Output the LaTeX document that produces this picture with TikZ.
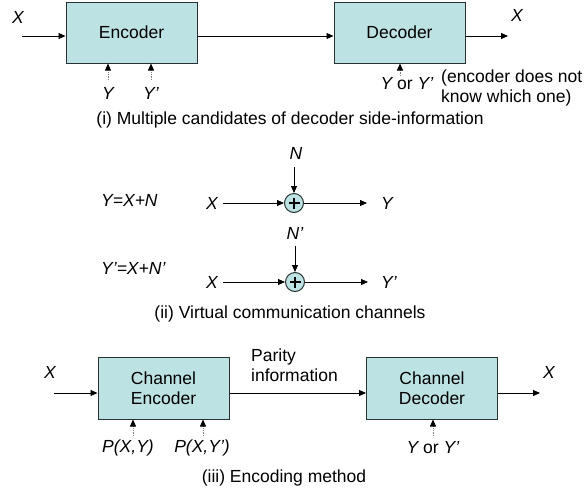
\documentclass[tikz,border=0pt]{standalone}
\usepackage{fontspec}
\setmainfont{Liberation Sans}
\usetikzlibrary{arrows.meta}
\definecolor{boxfill}{RGB}{188,226,227}
\definecolor{boxline}{RGB}{40,50,50}
\begin{document}
\begin{tikzpicture}[x=1pt,y=-1pt,
  every node/.style={font=\fontsize{17.5}{20}\selectfont, inner sep=0pt},
  block/.style={draw=boxline, line width=1pt, fill=boxfill, minimum width=131pt, minimum height=61pt, align=center},
  adder/.style={draw=boxline, line width=1pt, fill=boxfill, circle, minimum size=19pt},
  plus/.style={line width=1.3pt, black},
  lbl/.style={font=\fontsize{17.5}{20}\selectfont\itshape},
  flow/.style={line width=0.9pt, -{Triangle[length=7pt,width=6pt]}},
  side/.style={draw=gray, line width=0.8pt, densely dotted, -{Triangle[length=7pt,width=6pt,fill=black,color=black]}},
  caption/.style={font=\fontsize{17.5}{20}\selectfont}]
\useasboundingbox (0,0) rectangle (586,493);

% ---- (i) encoder / decoder with side information ----
\node[block] (enc) at (131.5,32.5) {Encoder};
\node[block] (dec) at (399.5,32.5) {Decoder};
\coordinate (iin) at (22,36);
\coordinate (iout) at (508,36);
\node[lbl] (xin) at (18,17) {X};
\node[lbl] (xout) at (517,15) {X};
\draw[flow] (iin) -- (enc.west |- iin);
\draw[flow] (enc.east |- iin) -- (dec.west |- iin);
\draw[flow] (dec.east |- iin) -- (iout);
\coordinate (s1) at (108,80);
\coordinate (s2) at (151,80);
\coordinate (s3) at (400,76);
\draw[side] (s1) -- (enc.south -| s1);
\draw[side] (s2) -- (enc.south -| s2);
\draw[side] (s3) -- (dec.south -| s3);
\node[lbl] (ly) at (108,93) {Y};
\node[lbl] (lyp) at (151,93) {Y’};
\node (lyor) at (407,84) {\textit{Y}\kern-1pt\ or \textit{Y’}};
\node[anchor=west, align=left] (note) at (441,88) {(encoder does not\\know which one)};
\node[caption] (cap1) at (290,120) {(i) Multiple candidates of decoder side-information};

% ---- (ii) virtual channels ----
\node[lbl, anchor=west] (eq1) at (101,200) {Y=X+N};
\node[lbl, anchor=west] (eq2) at (101,268) {Y’=X+N’};
\node[adder] (c1) at (294,203) {};
\draw[plus] ([xshift=-5.5pt]c1.center) -- ([xshift=5.5pt]c1.center)
            ([yshift=-5.5pt]c1.center) -- ([yshift=5.5pt]c1.center);
\node[adder] (c2) at (295,282) {};
\draw[plus] ([xshift=-5.5pt]c2.center) -- ([xshift=5.5pt]c2.center)
            ([yshift=-5.5pt]c2.center) -- ([yshift=5.5pt]c2.center);
\node[lbl] (n1) at (296,153) {N};
\node[lbl] (n2) at (295,233) {N’};
\node[lbl] (x1) at (212,203) {X};
\node[lbl] (x2) at (212,282) {X};
\node[lbl] (y1) at (387,203) {Y};
\node[lbl] (y2) at (389,282) {Y’};
\coordinate (n1a) at (294,167);
\coordinate (n2a) at (295,246);
\coordinate (x1a) at (223,203);
\coordinate (x2a) at (223,282);
\coordinate (y1a) at (367,203);
\coordinate (y2a) at (368,282);
\draw[flow] (n1a) -- (c1.north);
\draw[flow] (n2a) -- (c2.north);
\draw[flow] (x1a) -- (c1.west);
\draw[flow] (x2a) -- (c2.west);
\draw[flow] (c1.east) -- (y1a);
\draw[flow] (c2.east) -- (y2a);
\node[caption] (cap2) at (290,314) {(ii) Virtual communication channels};

% ---- (iii) channel coding ----
\node[block, minimum height=62pt] (cenc) at (163.5,388) {Channel\\Encoder};
\node[block, minimum height=62pt] (cdec) at (432,388) {Channel\\Decoder};
\coordinate (bin) at (54,393);
\coordinate (bout) at (540,393);
\node[lbl] (bx1) at (50,372) {X};
\node[lbl] (bx2) at (549,372) {X};
\draw[flow] (bin) -- (cenc.west |- bin);
\draw[flow] (cenc.east |- bin) -- (cdec.west |- bin);
\draw[flow] (cdec.east |- bin) -- (bout);
\node[anchor=west, align=left] (par) at (251,365) {Parity\\information};
\coordinate (p1) at (133,436);
\coordinate (p2) at (203,436);
\coordinate (p3) at (433,436);
\draw[side] (p1) -- (cenc.south -| p1);
\draw[side] (p2) -- (cenc.south -| p2);
\draw[side] (p3) -- (cdec.south -| p3);
\node[lbl] (pxy) at (128,448) {P(X,Y)};
\node[lbl] (pxyp) at (202,448) {P(X,Y’)};
\node (bor) at (433,448) {\textit{Y}\kern-1pt\ or \textit{Y’}};
\node[caption] (cap3) at (284,478) {(iii) Encoding method};
\end{tikzpicture}
\end{document}
